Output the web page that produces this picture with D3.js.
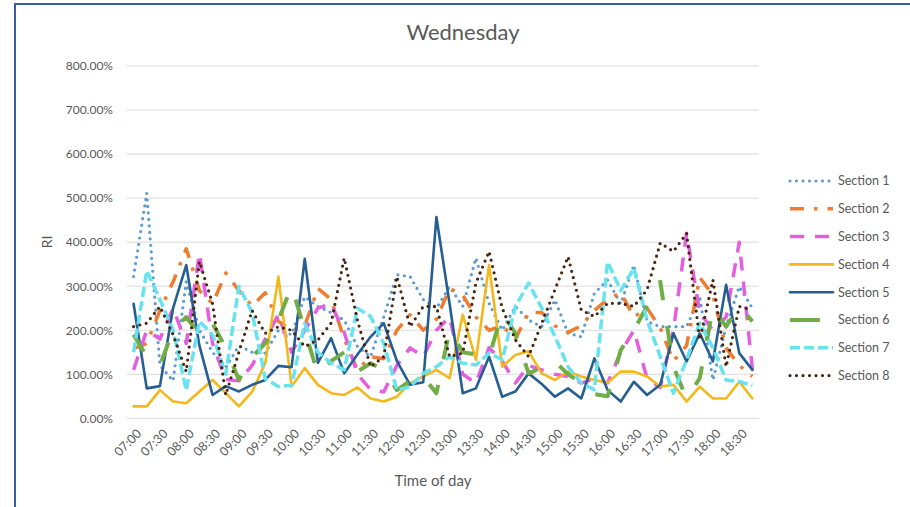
<!DOCTYPE html>
<html><head><meta charset="utf-8">
<script src="https://cdn.jsdelivr.net/npm/d3@7"></script>
<style>
html,body{margin:0;padding:0;background:#fff;}
text{font-family:Lato,"Open Sans",sans-serif;fill:#595959;}
</style></head>
<body><svg id="chart" width="910" height="507"></svg>
<script>
const categories = ["07:00","07:15","07:30","07:45","08:00","08:15","08:30","08:45","09:00","09:15","09:30","09:45",
"10:00","10:15","10:30","10:45","11:00","11:15","11:30","11:45","12:00","12:15","12:30","12:45",
"13:00","13:15","13:30","13:45","14:00","14:15","14:30","14:45","15:00","15:15","15:30","15:45",
"16:00","16:15","16:30","16:45","17:00","17:15","17:30","17:45","18:00","18:15","18:30","18:45"];
const tickLabels = ["07:00","07:30","08:00","08:30","09:00","09:30","10:00","10:30","11:00","11:30","12:00","12:30",
"13:00","13:30","14:00","14:30","15:00","15:30","16:00","16:30","17:00","17:30","18:00","18:30"];
const yTicks = [0,1,2,3,4,5,6,7,8];
const seriesNames = ["Section 1","Section 2","Section 3","Section 4","Section 5","Section 6","Section 7","Section 8"];
// values in percent
const section1 = [322,511,120,85,310,200,150,115,165,150,148,200,190,276,254,240,223,163,140,230,326,322,270,250,299,254,364,261,200,254,223,208,269,193,185,284,314,260,348,220,208,208,208,276,87,208,299,250];
const section2 = [158,170,245,310,385,290,260,330,290,255,285,220,200,210,295,270,180,110,140,135,200,235,200,225,295,280,230,200,210,180,240,240,210,195,210,245,270,285,230,250,205,130,165,320,280,160,120,95];
const section3 = [110,200,180,250,170,375,170,88,85,120,180,235,150,200,250,260,195,100,65,60,120,160,140,200,230,100,80,160,130,80,120,110,100,95,80,90,80,150,200,90,70,200,420,240,200,230,400,110];
const section4 = [27,27,64,38,34,61,87,57,27,60,125,322,72,114,76,57,53,70,45,38,49,80,95,110,91,235,133,348,117,144,152,102,87,106,95,87,81,106,106,95,72,76,38,72,45,45,83,45];
const section5 = [260,68,73,250,348,165,53,73,61,76,87,119,116,362,126,182,102,145,185,216,130,76,82,457,260,57,68,140,49,61,102,78,49,68,45,136,64,38,83,53,76,193,129,193,129,303,148,110];
const section6 = [190,140,120,200,230,190,215,160,87,140,170,223,300,200,100,130,150,106,125,110,64,85,95,57,200,150,145,140,240,193,102,115,129,100,80,55,50,155,200,255,310,117,45,91,250,208,254,220];
const section7 = [150,335,270,200,64,220,190,100,300,240,90,72,75,215,150,125,110,250,231,170,64,72,102,117,140,125,121,148,133,254,307,250,186,117,80,65,355,290,341,223,140,57,133,216,160,87,83,75];
const section8 = [208,216,254,190,106,356,260,53,150,245,193,208,200,163,178,216,364,223,117,140,322,208,254,254,140,148,307,379,250,178,140,216,292,367,246,231,261,261,254,292,398,379,420,178,314,117,254,246];
const seriesValues = [section1,section2,section3,section4,section5,section6,section7,section8];
const colors = ["#5B9BD5","#ED7D31","#E45FE0","#F2B81C","#255E91","#70AD47","#66E3EE","#4A2610"];
const widths = [3.2,3.5,3.5,2.6,2.6,4,3.5,3.2];
const dashes = ["0,6.5","14,10,3.5,10","14,11",null,null,"20,26","10,4","0,6.5"];
const legendDashes = ["0,6.5","14,10,3.5,10","14,11",null,null,"30,13","10,4","0,6.5"];
const caps = ["round","butt","butt","round","round","butt","butt","round"];

const svg = d3.select("#chart");
svg.append("path").attr("d","M15,940 L15,4 L920,4").attr("fill","none").attr("stroke","#3A5C9C").attr("stroke-width",2);

const x = d3.scalePoint().domain(categories).range([127,759]).padding(0.5);
const y = d3.scaleLinear().domain([0,8]).range([418.3,66]);

svg.append("g").selectAll("line").data(yTicks).join("line")
  .attr("x1",127).attr("x2",759).attr("y1",d=>y(d)).attr("y2",d=>y(d))
  .attr("stroke","#D9D9D9").attr("stroke-width",1);

const yAxis = d3.axisLeft(y).tickValues(yTicks).tickFormat(d3.format(".2%")).tickSize(0).tickPadding(14);
const gy = svg.append("g").attr("transform","translate(127,0)").call(yAxis);
gy.select(".domain").remove();
gy.selectAll("text").style("font-size","12px").attr("fill","#595959");

const xAxis = d3.axisBottom(x).tickValues(tickLabels).tickSize(0);
const gx = svg.append("g").attr("transform","translate(0,418.3)").call(xAxis);
gx.select(".domain").remove();
gx.selectAll("text").style("font-size","12.5px").attr("fill","#595959")
  .attr("text-anchor","end").attr("dy","0.35em").attr("y",0)
  .attr("transform","translate(5,13) rotate(-45)");

const line = d3.line().x((d,i)=>x(categories[i])).y(d=>y(d/100)).defined(d=>d!=null);
seriesValues.forEach((vals,k)=>{
  svg.append("path").datum(vals).attr("d",line).attr("fill","none")
    .attr("stroke",colors[k]).attr("stroke-width",widths[k])
    .attr("stroke-dasharray",dashes[k]).attr("stroke-linecap",caps[k]).attr("stroke-linejoin","round");
});

svg.append("text").attr("x",463).attr("y",40).attr("text-anchor","middle").style("font-size","22px").text("Wednesday");
svg.append("text").attr("x",433).attr("y",486).attr("text-anchor","middle").style("font-size","15px").text("Time of day");
svg.append("text").attr("transform","translate(52,242) rotate(-90)").attr("text-anchor","middle").style("font-size","14px").text("RI");

const lg = svg.append("g");
seriesNames.forEach((name,k)=>{
  const ly = 181 + k*27.8;
  lg.append("line").attr("x1",790).attr("x2",833).attr("y1",ly).attr("y2",ly)
    .attr("stroke",colors[k]).attr("stroke-width",widths[k])
    .attr("stroke-dasharray",legendDashes[k]).attr("stroke-linecap",caps[k]);
  lg.append("text").attr("x",838).attr("y",ly).attr("dy","0.35em").style("font-size","12.5px").text(name);
});
</script></body></html>
